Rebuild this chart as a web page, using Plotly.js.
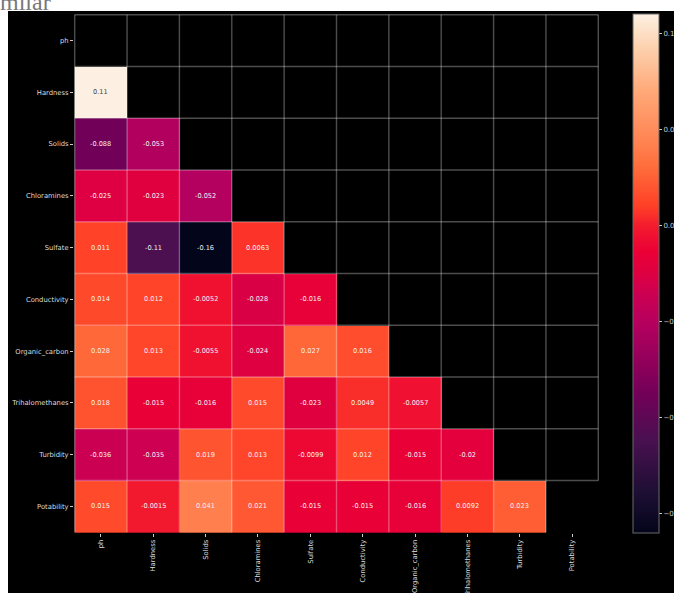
<!DOCTYPE html>
<html>
<head>
<meta charset="utf-8">
<script src="https://cdn.plot.ly/plotly-3.0.1.min.js"></script>
<style>
  html, body { margin: 0; padding: 0; background: #ffffff; width: 674px; height: 593px; overflow: hidden; }
  #caption { position: absolute; left: -16px; top: -10px; font-family: "Liberation Serif", serif; font-size: 24px; line-height: 24px; color: #777777; white-space: nowrap; z-index: 0; }
  #chart { position: absolute; left: 8px; top: 11px; width: 720px; height: 582px; z-index: 1; }
</style>
</head>
<body>
<div id="caption">similar</div>
<div id="chart"></div>
<script>
// Water-quality features, in heatmap order (top to bottom, left to right)
const features = ["ph", "Hardness", "Solids", "Chloramines", "Sulfate", "Conductivity",
                  "Organic_carbon", "Trihalomethanes", "Turbidity", "Potability"];

// Lower-triangle correlation coefficients, one row per feature
const corrPh              = [];
const corrHardness        = [0.11];
const corrSolids          = [-0.088, -0.053];
const corrChloramines     = [-0.025, -0.023, -0.052];
const corrSulfate         = [0.011, -0.11, -0.16, 0.0063];
const corrConductivity    = [0.014, 0.012, -0.0052, -0.028, -0.016];
const corrOrganicCarbon   = [0.028, 0.013, -0.0055, -0.024, 0.027, 0.016];
const corrTrihalomethanes = [0.018, -0.015, -0.016, 0.015, -0.023, 0.0049, -0.0057];
const corrTurbidity       = [-0.036, -0.035, 0.019, 0.013, -0.0099, 0.012, -0.015, -0.02];
const corrPotability      = [0.015, -0.0015, 0.041, 0.021, -0.015, -0.015, -0.016, 0.0092, 0.023];

const colorbarTicks = [-0.15, -0.10, -0.05, 0.00, 0.05, 0.10];

const rows = [corrPh, corrHardness, corrSolids, corrChloramines, corrSulfate, corrConductivity,
              corrOrganicCarbon, corrTrihalomethanes, corrTurbidity, corrPotability];
const n = features.length;

// Full matrix, upper triangle (incl. diagonal) masked out
const z = rows.map(r => features.map((_, j) => (j < r.length ? r[j] : null)));

const allVals = rows.flat();
const zmin = Math.min(...allVals);
const zmax = Math.max(...allVals);

// "rocket"-style sequential colour scale
const rocket = [
  [0.00, "#03051a"],
  [0.08, "#1e0f35"],
  [0.18, "#4a1050"],
  [0.27, "#730058"],
  [0.40, "#b4005e"],
  [0.46, "#cc0052"],
  [0.50, "#de0042"],
  [0.54, "#ea0036"],
  [0.59, "#f31a2e"],
  [0.63, "#ff4027"],
  [0.70, "#ff6a3a"],
  [0.75, "#ff8250"],
  [0.85, "#ffa878"],
  [0.93, "#fccfaa"],
  [1.00, "#fdf0e2"]
];

// Cell value labels
const annotations = [];
rows.forEach((r, i) => {
  r.forEach((v, j) => {
    const t = (v - zmin) / (zmax - zmin);
    annotations.push({
      x: features[j], y: features[i], xref: "x", yref: "y",
      text: String(parseFloat(v.toPrecision(2))),
      showarrow: false,
      font: { family: "DejaVu Sans", size: 6.6, color: t > 0.85 ? "#444444" : "#f4f0f0" }
    });
  });
});

// Cell border lines drawn over the heatmap
const lineStyle = { color: "rgba(255,255,255,0.3)", width: 1.4 };
const shapes = [];
for (let k = 0; k < n; k++) {
  shapes.push({ type: "line", xref: "x", yref: "y", layer: "above",
                x0: -0.5, x1: n - 0.5, y0: k - 0.5, y1: k - 0.5, line: lineStyle });
}
for (let k = 0; k <= n; k++) {
  shapes.push({ type: "line", xref: "x", yref: "y", layer: "above",
                x0: k - 0.5, x1: k - 0.5, y0: -0.5, y1: n - 1.5, line: lineStyle });
}
for (let k = 0; k < n; k++) {
  shapes.push({ type: "line", xref: "x", yref: "y", layer: "above",
                x0: k - 0.5, x1: k - 0.5, y0: n - 1.5, y1: n - 0.5, line: lineStyle });
}

const trace = {
  type: "heatmap",
  x: features,
  y: features,
  z: z,
  zmin: zmin,
  zmax: zmax,
  colorscale: rocket,
  hoverongaps: false,
  colorbar: {
    x: 1.0648, xanchor: "left", xpad: 0,
    y: 0.5, yanchor: "middle", ypad: 0,
    len: 1, lenmode: "fraction",
    thickness: 26, thicknessmode: "pixels",
    outlinewidth: 1, outlinecolor: "#6a6a6a",
    tickmode: "array",
    tickvals: colorbarTicks,
    ticktext: colorbarTicks.map(v => v.toFixed(2).replace("-", "\u2212")),
    ticks: "outside", ticklen: 3, tickwidth: 1, tickcolor: "#cccccc",
    tickfont: { family: "DejaVu Sans", size: 7, color: "#cccccc" }
  }
};

const axisCommon = {
  type: "category",
  showgrid: false, zeroline: false, showline: false,
  ticks: "outside", ticklen: 3, tickwidth: 1, tickcolor: "#cccccc",
  tickfont: { family: "DejaVu Sans", size: 6.8, color: "#dddddd" }
};

const layout = {
  width: 720, height: 582,
  margin: { l: 66, r: 129, t: 3, b: 60 },
  paper_bgcolor: "#000000",
  plot_bgcolor: "#000000",
  xaxis: Object.assign({}, axisCommon, { tickangle: -90 }),
  yaxis: Object.assign({}, axisCommon, { autorange: "reversed" }),
  annotations: annotations,
  shapes: shapes,
  showlegend: false
};

Plotly.newPlot("chart", [trace], layout, { displayModeBar: false, staticPlot: true });
</script>
</body>
</html>
